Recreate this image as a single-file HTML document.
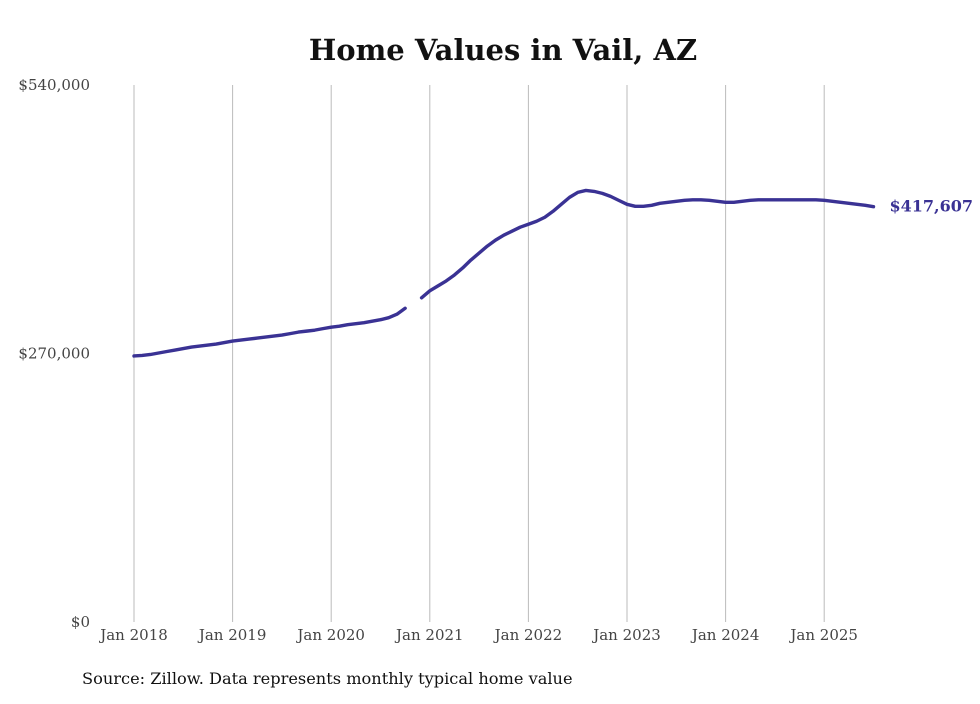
<!DOCTYPE html>
<html><head><meta charset="utf-8"><style>
body{margin:0;background:#fff;width:980px;height:699px;overflow:hidden}
svg text{font-family:"DejaVu Serif","Liberation Serif",serif}
</style></head><body>
<svg width="980" height="699">
<text x="503" y="60" text-anchor="middle" font-size="29" font-weight="bold" fill="#111">Home Values in Vail, AZ</text>
<g id="grid"></g><g id="yt"></g><g id="xt"></g><g id="lines"></g>
<text x="82" y="684" font-size="16.2" fill="#111">Source: Zillow. Data represents monthly typical home value</text>
</svg>
<script>
const startYear = 2018;
const values = [267.5,268,269,270.5,272,273.5,275,276.5,277.5,278.5,279.5,281,
282.5,283.5,284.5,285.5,286.5,287.5,288.5,290,291.5,292.5,293.5,295,
296.5,297.5,299,300,301,302.5,304,306,309.5,315.5,null,326,
333,338,343,349,356,364,371,378,384,389,393,397,
400,403,407,413,420,427,432,434,433,431,428,424,
420,418,418,419,421,422,423,424,424.5,424.5,424,423,
422,422,423,424,424.5,424.5,424.5,424.5,424.5,424.5,424.5,424.5,
424,423,422,421,420,419,417.607];
const yTicks = [0,270000,540000];
const yTickLabels = ["$0","$270,000","$540,000"];
const xTickYears = [2018,2019,2020,2021,2022,2023,2024,2025];
const endLabel = "$417,607";
const NS="http://www.w3.org/2000/svg";
const x0=134, pxPerYear=98.6, yBot=622, yTop=85;
const X=m=>x0+m*pxPerYear/12;
const Y=v=>yBot-(v/540000)*(yBot-yTop);
function mk(t,a,p){const e=document.createElementNS(NS,t);for(const k in a)e.setAttribute(k,a[k]);p.appendChild(e);return e;}
const grid=document.getElementById('grid'),yt=document.getElementById('yt'),xt=document.getElementById('xt'),lines=document.getElementById('lines');
xTickYears.forEach(yr=>{const x=X((yr-startYear)*12);
const l=mk('line',{x1:x,x2:x,y1:yTop,y2:yBot,stroke:'#bbb','stroke-width':1},grid);


const t=mk('text',{x:x,y:640,'text-anchor':'middle','font-size':15,fill:'#444'},xt);t.textContent='Jan '+yr;

});
yTicks.forEach((v,i)=>{const t=mk('text',{x:90,y:Y(v)+5,'text-anchor':'end','font-size':15,fill:'#444'},yt);t.textContent=yTickLabels[i];

});
let segs=[],cur=[];
values.forEach((v,i)=>{if(v==null){if(cur.length)segs.push(cur);cur=[];}else cur.push([X(i),Y(v*1000)]);});
if(cur.length)segs.push(cur);
segs.forEach((s,i)=>{const p=mk('polyline',{points:s.map(q=>q.join(',')).join(' '),fill:'none',stroke:'#3a3294','stroke-width':3.4,'stroke-linejoin':'round','stroke-linecap':'round'},lines);

});
const li=values.length-1;
const et=mk('text',{x:X(li)+16,y:Y(values[li]*1000)+5,'font-size':16,'font-weight':'bold',fill:'#3a3294'},lines);et.textContent=endLabel;


</script>
</body></html>
